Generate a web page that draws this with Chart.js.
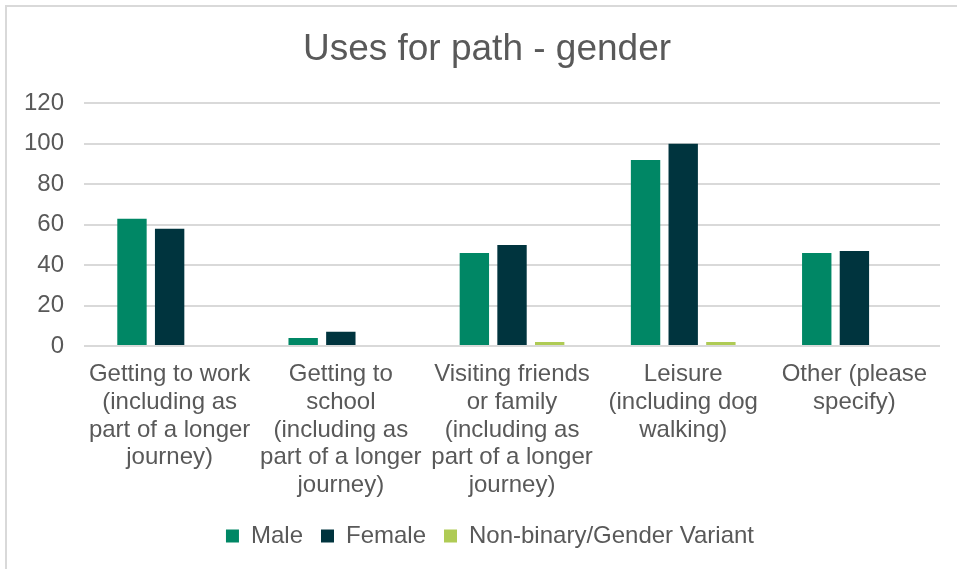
<!DOCTYPE html>
<html>
<head>
<meta charset="utf-8">
<script src="https://cdn.jsdelivr.net/npm/chart.js@4.4.1/dist/chart.umd.min.js"></script>
<style>
  html, body { margin: 0; padding: 0; background: #fff; }
  #wrap { position: relative; width: 957px; height: 569px; overflow: hidden; }
  #frame { position: absolute; left: 5px; top: 5px; width: 960px; height: 580px;
           border-top: 2px solid #d9d9d9; border-left: 2px solid #d9d9d9; }
  canvas { position: absolute; left: 0; top: 0; }
</style>
</head>
<body>
<div id="wrap">
  <div id="frame"></div>
  <canvas id="pathChart" width="957" height="569"></canvas>
</div>
<script>
// ================= DATA =================
const categories = [
    ['Getting to work', '(including as', 'part of a longer', 'journey)'],
    ['Getting to', 'school', '(including as', 'part of a longer', 'journey)'],
    ['Visiting friends', 'or family', '(including as', 'part of a longer', 'journey)'],
    ['Leisure', '(including dog', 'walking)'],
    ['Other (please', 'specify)']
];
const maleValues = [63, 4, 46, 92, 46];
const femaleValues = [58, 7, 50, 100, 47];
const nonBinaryValues = [0, 0, 2, 2, 0];
const yTicks = [0, 20, 40, 60, 80, 100, 120];

const textColor = '#595959';
const fontFamily = '"Liberation Sans", Arial, sans-serif';

// title and legend sit centred on the whole frame, not on the plot
const centreShift = {
    id: 'centreShift',
    afterLayout(chart) {
        chart.titleBlock.left += 15;
        chart.titleBlock.right += 15;
        chart.legend.left += 18;
        chart.legend.right += 18;
    }
};

// ================= CHART =================
const ctx = document.getElementById('pathChart');

new Chart(ctx, {
    type: 'bar',
    data: {
        labels: categories,
        datasets: [
            { label: 'Male', data: maleValues, backgroundColor: '#008765' },
            { label: 'Female', data: femaleValues, backgroundColor: '#00343E' },
            { label: 'Non-binary/Gender Variant', data: nonBinaryValues, backgroundColor: '#AFCB55' }
        ]
    },
    plugins: [centreShift],
    options: {
        responsive: false,
        animation: false,
        categoryPercentage: 0.66,
        barPercentage: 0.78,
        layout: { padding: { top: 28, left: 4, right: 17, bottom: 11 } },
        plugins: {
            title: {
                display: true,
                text: 'Uses for path - gender',
                color: textColor,
                font: { family: fontFamily, size: 37, weight: 'normal' },
                padding: { top: 0, bottom: 31 }
            },
            legend: {
                position: 'bottom',
                labels: {
                    color: textColor,
                    font: { family: fontFamily, size: 24 },
                    boxWidth: 13,
                    boxHeight: 13,
                    padding: 18
                }
            },
            tooltip: { enabled: false }
        },
        scales: {
            x: {
                grid: { display: false },
                border: { display: false },
                ticks: {
                    color: textColor,
                    font: { family: fontFamily, size: 24, lineHeight: 1.15 },
                    maxRotation: 0,
                    autoSkip: false,
                    padding: 7
                }
            },
            y: {
                min: 0,
                max: 120,
                afterBuildTicks: axis => { axis.ticks = yTicks.map(v => ({ value: v })); },
                grid: { color: '#d9d9d9', lineWidth: 2, drawTicks: false },
                border: { display: false },
                ticks: {
                    color: textColor,
                    font: { family: fontFamily, size: 24 },
                    padding: 20
                }
            }
        }
    }
});
</script>
</body>
</html>
